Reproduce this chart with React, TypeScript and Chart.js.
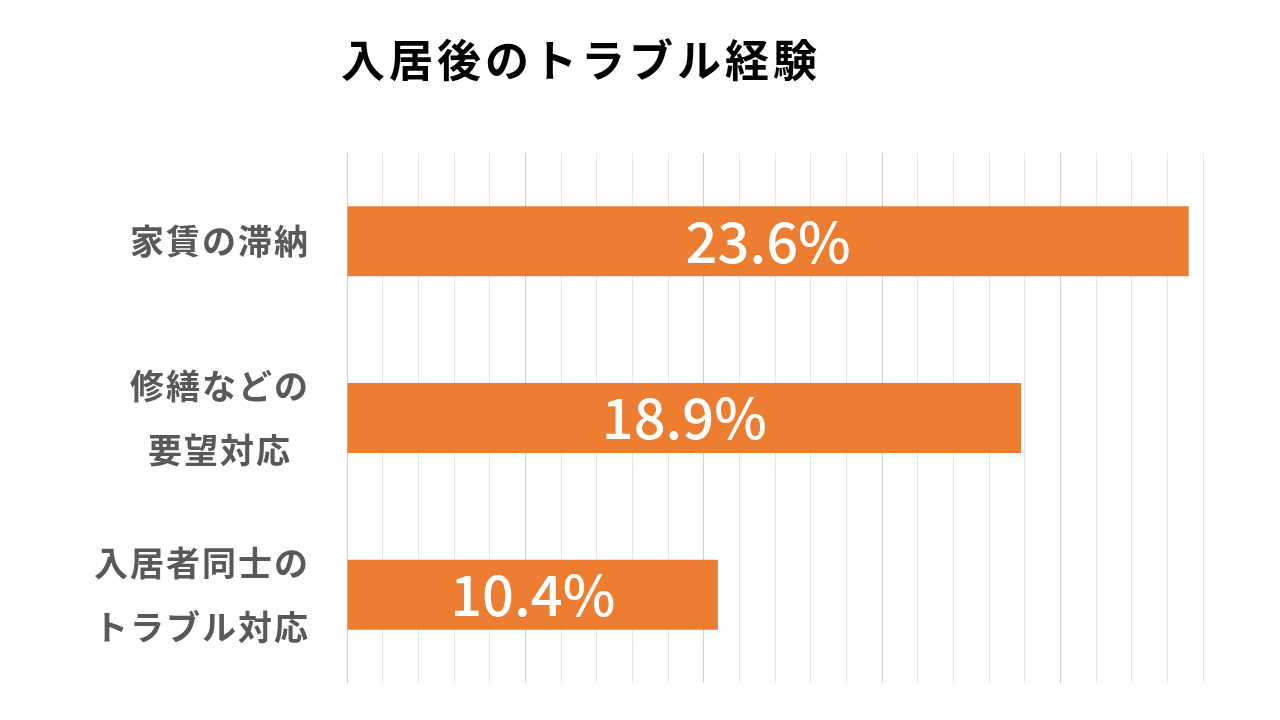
import React, { useEffect, useRef } from "react";
import { Chart, registerables } from "chart.js";

Chart.register(...registerables);

const title = "入居後のトラブル経験";
const categories: string[][] = [["家賃の滞納"], ["修繕などの", "要望対応"], ["入居者同士の", "トラブル対応"]];
const values = [23.6, 18.9, 10.4];
const xMax = 24;
const barColor = "#ED7D31";
const FONT = "'Noto Sans CJK JP', 'Noto Sans', sans-serif";

const overlayPlugin = {
  id: "overlay",
  afterDatasetsDraw(chart: any) {
    const ctx = chart.ctx as CanvasRenderingContext2D;
    const yScale = chart.scales.y;
    const meta = chart.getDatasetMeta(0);
    ctx.save();
    // value labels
    ctx.fillStyle = "#ffffff";
    ctx.font = `500 56px ${FONT}`;
    ctx.textAlign = "center";
    ctx.textBaseline = "middle";
    meta.data.forEach((bar: any, i: number) => {
      const cx = (bar.base + bar.x) / 2;
      ctx.fillText(values[i].toFixed(1) + "%", cx, bar.y);
    });
    // category labels (block right-aligned, lines centered within block)
    ctx.fillStyle = "#595959";
    ctx.font = `bold 34px ${FONT}`;
    (ctx as any).letterSpacing = "2px";
    const rightEdge = 310;
    const lineGap = 64;
    categories.forEach((lines, i) => {
      const yc = yScale.getPixelForValue(i);
      const widths = lines.map((l) => ctx.measureText(l).width);
      const blockW = Math.max(...widths);
      const center = rightEdge - blockW / 2;
      ctx.textAlign = "center";
      lines.forEach((l, j) => {
        const y = yc + (j - (lines.length - 1) / 2) * lineGap;
        ctx.fillText(l, center, y);
      });
    });
    // title
    ctx.fillStyle = "#000000";
    ctx.font = `bold 44px ${FONT}`;
    (ctx as any).letterSpacing = "4px";
    ctx.textAlign = "left";
    ctx.fillText(title, 341, 60);
    ctx.restore();
  },
};

export default function App() {
  const ref = useRef<HTMLCanvasElement>(null);
  useEffect(() => {
    document.body.style.margin = "0";
    const chart = new Chart(ref.current!, {
      type: "bar",
      data: {
        labels: categories.map((c) => c.join("")),
        datasets: [
          {
            data: values,
            backgroundColor: barColor,
            barPercentage: 0.6,
            categoryPercentage: 0.66,
          },
        ],
      },
      plugins: [overlayPlugin],
      options: {
        indexAxis: "y",
        animation: false,
        responsive: false,
        layout: { padding: { top: 153, bottom: 37, left: 0, right: 77 } },
        plugins: { legend: { display: false }, tooltip: { enabled: false }, title: { display: false } },
        scales: {
          x: {
            min: 0,
            max: xMax,
            ticks: { display: false, stepSize: 1 },
            border: { display: false },
            grid: {
              drawTicks: false,
              lineWidth: 1,
              color: (c: any) => (c.tick && c.tick.value % 5 === 0 ? "#cfcfcf" : "#e7e7e7"),
            },
          },
          y: {
            ticks: { display: false },
            border: { display: false },
            grid: { display: false },
            afterFit: (scale: any) => {
              scale.width = 347;
            },
          },
        },
      },
    });
    return () => chart.destroy();
  }, []);
  return <canvas ref={ref} width={1280} height={720} style={{ display: "block" }} />;
}
